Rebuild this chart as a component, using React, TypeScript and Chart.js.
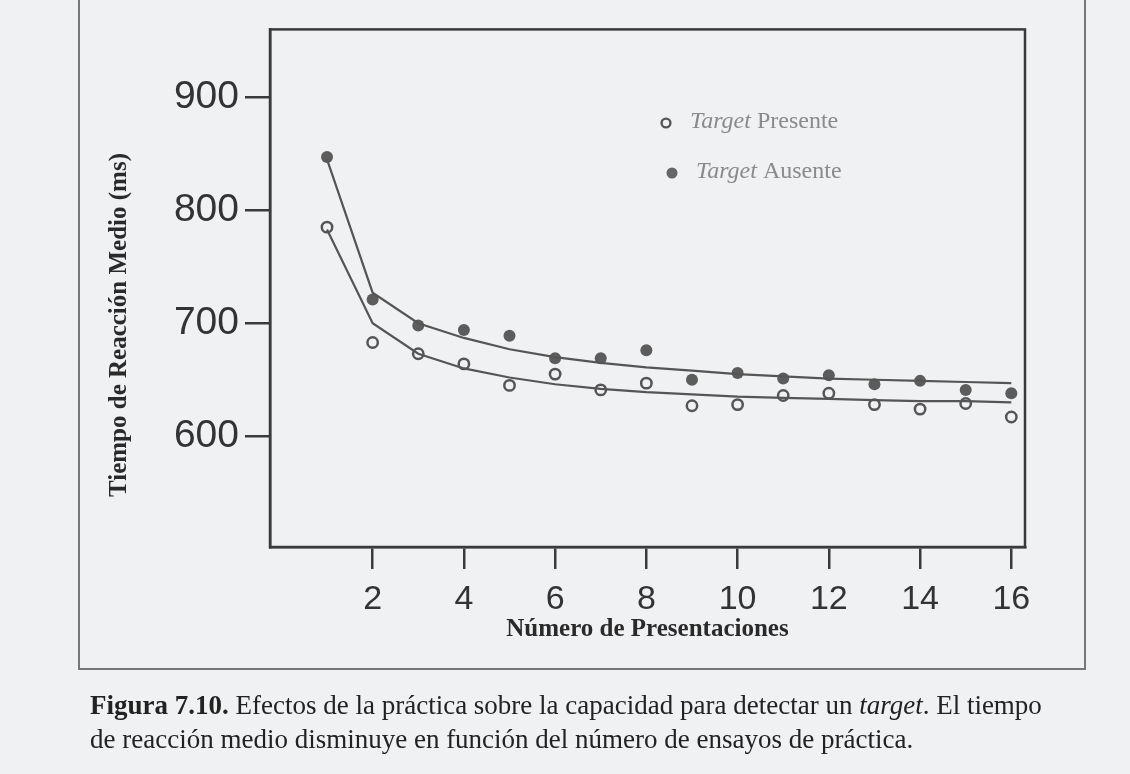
import React, { useEffect, useRef } from "react";
import { Chart, registerables } from "chart.js";

Chart.register(...registerables);

// Número de presentaciones
const presentaciones = [1, 2, 3, 4, 5, 6, 7, 8, 9, 10, 11, 12, 13, 14, 15, 16];
// Tiempo de reacción medio (ms) – Target Presente (open circles)
const targetPresente = [785, 683, 673, 664, 645, 655, 641, 647, 627, 628, 636, 638, 628, 624, 629, 617];
// Tiempo de reacción medio (ms) – Target Ausente (filled circles)
const targetAusente = [847, 721, 698, 694, 689, 669, 669, 676, 650, 656, 651, 654, 646, 649, 641, 638];
// Fitted curves
const curvaPresente = [783, 700, 673, 660, 652, 646, 642, 639, 637, 635, 634, 633, 632, 631, 631, 630];
const curvaAusente = [845, 727, 700, 687, 677, 670, 665, 661, 658, 655, 653, 651, 650, 649, 648, 647];
// Tick labels
const xTickValues = [2, 4, 6, 8, 10, 12, 14, 16];
const yTickValues = [600, 700, 800, 900];

const PAGE_BG = "#f0f1f3";
const INK = "#3a3a3a";
const MARK = "#555555";

export default function App() {
  const ref = useRef<HTMLCanvasElement | null>(null);

  useEffect(() => {
    if (!ref.current) return;

    const decorPlugin = {
      id: "decor",
      afterDraw(chart: any) {
        const { ctx, chartArea: a } = chart;
        ctx.save();
        // plot box
        ctx.strokeStyle = INK;
        ctx.lineWidth = 2.5;
        ctx.strokeRect(a.left, a.top, a.right - a.left, a.bottom - a.top);

        // y axis title
        ctx.save();
        ctx.translate(120, 325);
        ctx.rotate(-Math.PI / 2);
        ctx.fillStyle = "#2a2a2a";
        ctx.font = "bold 25px 'Liberation Serif'";
        ctx.textAlign = "center";
        ctx.textBaseline = "middle";
        ctx.fillText("Tiempo de Reacción Medio (ms)", 0, 0);
        ctx.restore();

        // legend
        const items = [
          { y: 122, filled: false, rest: " Presente", cx: 666 },
          { y: 172, filled: true, rest: " Ausente", cx: 672 },
        ];
        items.forEach((it) => {
          ctx.beginPath();
          ctx.arc(it.cx, it.y + 1, it.filled ? 5.5 : 4.4, 0, Math.PI * 2);
          if (it.filled) {
            ctx.fillStyle = "#666";
            ctx.fill();
          } else {
            ctx.fillStyle = PAGE_BG;
            ctx.fill();
            ctx.lineWidth = 2.4;
            ctx.strokeStyle = "#555";
            ctx.stroke();
          }
          ctx.textBaseline = "middle";
          ctx.textAlign = "left";
          ctx.fillStyle = "#8a8a8a";
          const x0 = it.cx + 24;
          ctx.font = "italic 24px 'Liberation Serif'";
          ctx.fillText("Target", x0, it.y);
          const w = ctx.measureText("Target").width;
          ctx.font = "24px 'Liberation Serif'";
          ctx.fillText(it.rest, x0 + w, it.y);
        });
        ctx.restore();
      },
    };

    const toPts = (ys: number[]) => presentaciones.map((x, i) => ({ x, y: ys[i] }));

    const chart = new Chart(ref.current, {
      type: "scatter",
      data: {
        datasets: [
          {
            label: "Curva Ausente",
            type: "line",
            data: toPts(curvaAusente),
            borderColor: MARK,
            borderWidth: 2.2,
            pointRadius: 0,
            tension: 0,
            fill: false,
          } as any,
          {
            label: "Curva Presente",
            type: "line",
            data: toPts(curvaPresente),
            borderColor: MARK,
            borderWidth: 2.2,
            pointRadius: 0,
            tension: 0,
            fill: false,
          } as any,
          {
            label: "Target Ausente",
            data: toPts(targetAusente),
            pointRadius: 6,
            pointBackgroundColor: "#5c5c5c",
            pointBorderColor: "#5c5c5c",
            pointBorderWidth: 0,
          },
          {
            label: "Target Presente",
            data: toPts(targetPresente),
            pointRadius: 5.2,
            pointBackgroundColor: PAGE_BG,
            pointBorderColor: "#555",
            pointBorderWidth: 2.5,
          },
        ],
      },
      options: {
        responsive: false,
        animation: false,
        layout: { padding: { left: 95, right: 105, top: 20, bottom: 124 } },
        plugins: { legend: { display: false }, tooltip: { enabled: false } },
        scales: {
          x: {
            type: "linear",
            min: -0.25,
            max: 16.3,
            afterBuildTicks: (s: any) => {
              s.ticks = xTickValues.map((v) => ({ value: v }));
            },
            afterFit: (s: any) => {
              s.height = 103;
            },
            grid: {
              drawOnChartArea: false,
              drawTicks: true,
              tickLength: 22,
              color: INK,
              lineWidth: 2.5,
            },
            border: { display: true, color: INK, width: 2.5 },
            ticks: {
              padding: 10,
              autoSkip: false,
              maxRotation: 0,
              color: "#333",
              font: { family: "'Liberation Sans'", size: 34 },
              callback: (v: any) => String(v),
            },
            title: {
              display: true,
              text: "Número de Presentaciones",
              color: "#2a2a2a",
              font: { family: "'Liberation Serif'", size: 25, weight: "bold" },
              padding: { top: 0, bottom: 5 },
            },
          },
          y: {
            type: "linear",
            min: 502,
            max: 960,
            afterBuildTicks: (s: any) => {
              s.ticks = yTickValues.map((v) => ({ value: v }));
            },
            afterFit: (s: any) => {
              s.width = 175;
            },
            grid: {
              drawOnChartArea: false,
              drawTicks: true,
              tickLength: 25,
              color: INK,
              lineWidth: 2.5,
            },
            border: { display: true, color: INK, width: 2.5 },
            ticks: {
              padding: 6,
              color: "#333",
              font: { family: "'Liberation Sans'", size: 39 },
              callback: (v: any) => String(v),
            },
          },
        },
      },
      plugins: [decorPlugin],
    });

    return () => chart.destroy();
  }, []);

  return (
    <div
      style={{
        position: "fixed",
        left: 0,
        top: 0,
        width: 1130,
        height: 774,
        background: PAGE_BG,
        overflow: "hidden",
      }}
    >
      <div
        style={{
          position: "absolute",
          left: 78,
          top: -4,
          width: 1008,
          height: 674,
          border: "2px solid #777",
          boxSizing: "border-box",
        }}
      />
      <canvas
        ref={ref}
        width={1130}
        height={774}
        style={{ position: "absolute", left: 0, top: 0, width: 1130, height: 774 }}
      />
      <div
        style={{
          position: "absolute",
          left: 90,
          top: 688,
          width: 1040,
          fontFamily: "'Liberation Serif', serif",
          fontSize: 27,
          lineHeight: "34px",
          color: "#222",
          whiteSpace: "nowrap",
        }}
      >
        <div>
          <b>Figura 7.10.</b> Efectos de la práctica sobre la capacidad para detectar un <i>target</i>. El tiempo
        </div>
        <div>de reacción medio disminuye en función del número de ensayos de práctica.</div>
      </div>
    </div>
  );
}
